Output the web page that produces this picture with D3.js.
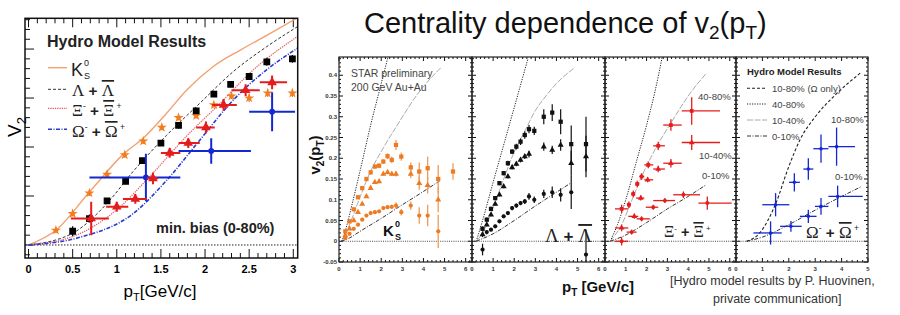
<!DOCTYPE html>
<html>
<head>
<meta charset="utf-8">
<script src="https://cdn.jsdelivr.net/npm/d3@7"></script>
<style>
  body { margin: 0; background: #fff; }
  svg { display: block; }
  text { font-family: "Liberation Sans", Arial, sans-serif; }
</style>
</head>
<body>
<div id="chart"></div>
<script>
// ---------- min. bias panel (left), pT in GeV/c, v2 ----------
const k0sMbPt = [0.31, 0.50, 0.69, 0.89, 1.09, 1.30, 1.51, 1.70, 1.90, 2.10, 2.30, 2.50, 2.71, 2.99];
const k0sMbV2 = [0.015, 0.032, 0.053, 0.072, 0.092, 0.106, 0.120, 0.130, 0.132, 0.143, 0.152, 0.150, 0.155, 0.155];
const k0sMbErr = [0.003, 0.003, 0.003, 0.003, 0.003, 0.003, 0.003, 0.003, 0.003, 0.003, 0.003, 0.004, 0.004, 0.004];

const lamMbPt = [0.50, 0.69, 0.89, 1.10, 1.29, 1.50, 1.70, 1.90, 2.10, 2.29, 2.50, 2.70, 2.99];
const lamMbV2 = [0.014, 0.027, 0.045, 0.065, 0.086, 0.104, 0.122, 0.137, 0.154, 0.164, 0.172, 0.187, 0.190];
const lamMbErr = [0.005, 0.004, 0.003, 0.003, 0.003, 0.003, 0.003, 0.003, 0.003, 0.003, 0.003, 0.004, 0.004];

const xiMbPt = [0.71, 1.00, 1.21, 1.41, 1.60, 1.81, 2.01, 2.21, 2.46, 2.76];
const xiMbV2 = [0.027, 0.039, 0.047, 0.068, 0.094, 0.104, 0.120, 0.143, 0.158, 0.166];
const xiMbErr = [0.017, 0.005, 0.005, 0.006, 0.005, 0.005, 0.006, 0.006, 0.006, 0.007];
const xiMbLo = [0.48, 0.88, 1.07, 1.34, 1.50, 1.70, 1.90, 2.08, 2.30, 2.62];
const xiMbHi = [0.91, 1.13, 1.34, 1.47, 1.72, 1.94, 2.11, 2.36, 2.62, 2.93];

const omMbPt = [1.33, 2.07, 2.76];
const omMbV2 = [0.069, 0.096, 0.136];
const omMbErr = [0.024, 0.013, 0.020];
const omMbLo = [0.69, 1.70, 2.50];
const omMbHi = [1.72, 2.52, 3.02];

// hydro curves, min. bias
const k0sHydroPt = [0, 0.31, 0.69, 1.09, 1.30, 1.56, 1.79, 2.09, 2.40, 2.70, 3.05];
const k0sHydroV2 = [0, 0.015, 0.054, 0.094, 0.109, 0.134, 0.158, 0.182, 0.199, 0.214, 0.232];
const lamHydroPt = [0, 0.50, 0.89, 1.185, 1.565, 1.94, 2.32, 2.70, 3.05];
const lamHydroV2 = [0, 0.012, 0.0425, 0.075, 0.112, 0.1446, 0.177, 0.2025, 0.223];
const xiHydroPt = [0, 0.54, 1.0, 1.375, 1.79, 2.17, 2.55, 3.05];
const xiHydroV2 = [0, 0.010, 0.036, 0.070, 0.111, 0.1446, 0.179, 0.213];
const omHydroPt = [0, 0.58, 1.185, 1.565, 1.94, 2.32, 2.70, 3.05];
const omHydroV2 = [0, 0.0078, 0.032, 0.066, 0.107, 0.148, 0.179, 0.201];

// ---------- centrality panels (right) ----------
// K0S
const k0s4080Pt = [0.3, 0.5, 0.7, 0.9, 1.1, 1.3, 1.5, 1.7, 1.9, 2.1, 2.3, 2.5, 2.7, 2.95, 3.4, 3.8, 4.2, 4.7, 5.4];
const k0s4080V2 = [0.024, 0.048, 0.077, 0.106, 0.128, 0.150, 0.166, 0.180, 0.182, 0.192, 0.205, 0.196, 0.232, 0.204, 0.178, 0.168, 0.176, 0.150, 0.168];
const k0s4080Err = [0.004, 0.004, 0.004, 0.004, 0.004, 0.005, 0.005, 0.005, 0.006, 0.006, 0.007, 0.008, 0.012, 0.010, 0.012, 0.022, 0.028, 0.034, 0.020];
const k0s1040Pt = [0.3, 0.5, 0.7, 0.9, 1.1, 1.3, 1.5, 1.7, 1.9, 2.1, 2.3, 2.5, 2.7, 3.4, 3.8, 4.2, 4.7];
const k0s1040V2 = [0.014, 0.030, 0.050, 0.070, 0.090, 0.108, 0.128, 0.142, 0.144, 0.162, 0.166, 0.162, 0.162, 0.162, 0.140, 0.135, 0.100];
const k0s1040Err = [0.003, 0.003, 0.003, 0.003, 0.003, 0.003, 0.004, 0.004, 0.004, 0.004, 0.005, 0.005, 0.006, 0.010, 0.016, 0.020, 0.030];
const k0s010Pt = [0.3, 0.5, 0.7, 0.9, 1.1, 1.3, 1.5, 1.7, 1.9, 2.1, 2.3, 2.5, 2.7, 2.95, 3.4, 3.8, 4.2, 4.7];
const k0s010V2 = [0.008, 0.018, 0.030, 0.040, 0.052, 0.062, 0.068, 0.070, 0.072, 0.080, 0.082, 0.083, 0.086, 0.070, 0.086, 0.062, 0.062, 0.024];
const k0s010Err = [0.003, 0.003, 0.003, 0.003, 0.003, 0.003, 0.003, 0.003, 0.003, 0.004, 0.004, 0.005, 0.008, 0.008, 0.010, 0.020, 0.026, 0.040];
const k0sHydro4080Pt = [0.14, 0.3, 0.6, 1.0, 1.5, 2.0, 2.4];
const k0sHydro4080V2 = [0, 0.025, 0.085, 0.17, 0.28, 0.38, 0.46];
const k0sHydro1040Pt = [0.15, 0.54, 0.86, 1.49, 2.1, 2.76, 3.8, 4.84];
const k0sHydro1040V2 = [0, 0.045, 0.088, 0.168, 0.225, 0.28, 0.36, 0.419];
const k0sHydro010Pt = [0.1, 0.5, 1, 2, 3, 4, 4.84];
const k0sHydro010V2 = [0, 0.008, 0.024, 0.055, 0.088, 0.12, 0.148];

// Lambda
const lam4080Pt = [0.5, 0.7, 0.9, 1.1, 1.3, 1.5, 1.7, 1.9, 2.1, 2.3, 2.5, 2.7, 2.95, 3.4, 3.8, 4.2, 4.7, 5.4];
const lam4080V2 = [0.030, 0.052, 0.078, 0.104, 0.140, 0.164, 0.188, 0.216, 0.228, 0.240, 0.256, 0.270, 0.266, 0.300, 0.310, 0.288, 0.234, 0.234];
const lam4080Err = [0.006, 0.005, 0.005, 0.005, 0.005, 0.005, 0.006, 0.006, 0.007, 0.008, 0.009, 0.010, 0.010, 0.018, 0.020, 0.030, 0.045, 0.066];
const lam1040Pt = [0.5, 0.7, 0.9, 1.1, 1.3, 1.5, 1.7, 1.9, 2.1, 2.3, 2.5, 2.7, 3.4, 3.8, 4.2, 4.7, 5.4];
const lam1040V2 = [0.016, 0.040, 0.064, 0.090, 0.112, 0.132, 0.156, 0.178, 0.186, 0.196, 0.204, 0.210, 0.228, 0.220, 0.232, 0.188, 0.204];
const lam1040Err = [0.006, 0.004, 0.004, 0.004, 0.004, 0.004, 0.005, 0.005, 0.005, 0.006, 0.006, 0.008, 0.010, 0.010, 0.014, 0.030, 0.050];
const lam010Pt = [0.5, 0.7, 0.9, 1.1, 1.3, 1.5, 1.7, 1.9, 2.1, 2.3, 2.5, 2.7, 2.95, 3.4, 3.8, 4.2, 4.7, 5.4];
const lam010V2 = [-0.020, 0.022, 0.028, 0.036, 0.048, 0.060, 0.068, 0.080, 0.086, 0.092, 0.096, 0.108, 0.100, 0.114, 0.118, 0.112, 0.118, -0.032];
const lam010Err = [0.014, 0.005, 0.004, 0.004, 0.004, 0.004, 0.004, 0.005, 0.005, 0.005, 0.006, 0.008, 0.008, 0.010, 0.014, 0.016, 0.040, 0.060];
const lamHydro4080Pt = [0.2, 0.5, 1.0, 1.5, 2.0, 2.65];
const lamHydro4080V2 = [0, 0.05, 0.142, 0.232, 0.322, 0.44];
const lamHydro1040Pt = [0.2, 0.5, 1.0, 1.5, 2.0, 2.5, 3.0, 3.5, 4.0, 4.83];
const lamHydro1040V2 = [0, 0.02, 0.08, 0.15, 0.215, 0.265, 0.315, 0.35, 0.38, 0.417];
const lamHydro010Pt = [0.2, 1, 2, 3, 4, 4.67];
const lamHydro010V2 = [0, 0.018, 0.05, 0.085, 0.118, 0.14];

// Xi
const xi4080Pt = [0.80, 1.15, 1.36, 1.55, 1.76, 2.08, 2.56, 3.17, 4.17];
const xi4080V2 = [0.078, 0.088, 0.114, 0.138, 0.156, 0.184, 0.230, 0.280, 0.314];
const xi4080Err = [0.010, 0.008, 0.008, 0.008, 0.008, 0.008, 0.010, 0.014, 0.033];
const xi4080Lo = [0.48, 1.05, 1.25, 1.45, 1.65, 1.89, 2.32, 2.80, 3.69];
const xi4080Hi = [1.12, 1.25, 1.45, 1.65, 1.89, 2.32, 2.88, 3.69, 5.53];
const xi1040Pt = [0.80, 1.41, 1.72, 2.05, 2.56, 3.17, 4.17];
const xi1040V2 = [0.032, 0.060, 0.104, 0.148, 0.174, 0.188, 0.238];
const xi1040Err = [0.008, 0.006, 0.006, 0.006, 0.008, 0.010, 0.018];
const xi1040Lo = [0.48, 1.12, 1.50, 1.89, 2.32, 2.80, 3.69];
const xi1040Hi = [1.12, 1.60, 1.89, 2.32, 2.88, 3.69, 5.53];
const xi010Pt = [0.80, 1.28, 1.76, 2.32, 2.88, 3.77, 4.92];
const xi010V2 = [0.000, 0.022, 0.054, 0.082, 0.098, 0.112, 0.092];
const xi010Err = [0.010, 0.006, 0.006, 0.006, 0.006, 0.008, 0.016];
const xi010Lo = [0.48, 1.04, 1.52, 1.96, 2.32, 3.28, 4.49];
const xi010Hi = [1.12, 1.52, 2.16, 2.56, 3.37, 4.57, 6.09];
const xiHydro4080Pt = [0.25, 0.6, 1.0, 1.5, 2.0, 2.4, 2.75];
const xiHydro4080V2 = [0, 0.04, 0.1, 0.19, 0.28, 0.36, 0.444];
const xiHydro1040Pt = [0.25, 0.8, 1.3, 1.8, 2.56, 3.17, 4.0, 4.86];
const xiHydro1040V2 = [0, 0.04, 0.1, 0.16, 0.235, 0.285, 0.35, 0.404];
const xiHydro010Pt = [0.25, 1, 2, 3, 4, 4.86];
const xiHydro010V2 = [0, 0.015, 0.045, 0.078, 0.108, 0.136];

// Omega
const om1080Pt = [1.50, 2.21, 2.74, 3.22, 3.81];
const om1080V2 = [0.088, 0.142, 0.174, 0.223, 0.228];
const om1080Err = [0.028, 0.022, 0.026, 0.034, 0.046];
const om1080Lo = [1.00, 2.01, 2.55, 2.93, 3.50];
const om1080Hi = [2.02, 2.42, 2.93, 3.50, 4.51];
const om010Pt = [1.31, 2.08, 2.74, 3.22, 3.85];
const om010V2 = [0.020, 0.036, 0.060, 0.084, 0.108];
const om010Err = [0.028, 0.013, 0.016, 0.020, 0.026];
const om010Lo = [0.66, 1.67, 2.42, 2.99, 3.50];
const om010Hi = [1.73, 2.49, 3.05, 3.50, 4.80];
const omHydro1080Pt = [0.4, 0.9, 1.5, 2.0, 2.42, 3.0, 3.69, 4.76];
const omHydro1080V2 = [0, 0.02, 0.09, 0.18, 0.244, 0.30, 0.348, 0.408];
const omHydro010Pt = [0.4, 1, 2, 3, 4, 4.76];
const omHydro010V2 = [0, 0.01, 0.04, 0.075, 0.108, 0.132];

// tick labels
const mbTickLabels = ["0", "0.5", "1", "1.5", "2", "2.5", "3"];
const rightYTicks = [-0.05, 0, 0.05, 0.1, 0.15, 0.2, 0.25, 0.3, 0.35, 0.4];

const svg = d3.select("#chart").append("svg")
  .attr("width", 900)
  .attr("height", 315);

// curve styles used in both parts
const ORANGE = "#ee7a22", RED = "#e41c1c", BLUE = "#1428d2";
const sDot = { stroke: "#222", dash: "1.2,1.3", width: 1 };
const sGray = { stroke: "#aaa", dash: "6,1.5", width: 1 };
const sDashDot = { stroke: "#333", dash: "4,1.5,1,1.5", width: 1 };
const sDash = { stroke: "#222", dash: "3,2", width: 1.1 };

function drawCurve(g, x, y, pt, v2, st) {
  const line = d3.line().x(d => x(d[0])).y(d => y(d[1])).curve(d3.curveMonotoneX);
  g.append("path")
    .attr("d", line(d3.zip(pt, v2)))
    .attr("fill", "none")
    .attr("stroke", st.stroke)
    .attr("stroke-width", st.width)
    .attr("stroke-dasharray", st.dash);
}

function drawSeries(g, x, y, s) {
  const idx = d3.range(s.pt.length);
  if (s.lo) {
    g.append("g").selectAll("line").data(idx).join("line")
      .attr("x1", i => x(s.lo[i])).attr("x2", i => x(s.hi[i]))
      .attr("y1", i => y(s.v2[i])).attr("y2", i => y(s.v2[i]))
      .attr("stroke", s.barColor || s.color).attr("stroke-width", s.width);
  }
  if (s.err) {
    g.append("g").selectAll("line").data(idx).join("line")
      .attr("x1", i => x(s.pt[i])).attr("x2", i => x(s.pt[i]))
      .attr("y1", i => y(s.v2[i] - s.err[i])).attr("y2", i => y(s.v2[i] + s.err[i]))
      .attr("stroke", s.barColor || s.color).attr("stroke-width", s.width);
  }
  g.append("g").selectAll("path").data(idx).join("path")
    .attr("transform", i => `translate(${x(s.pt[i])},${y(s.v2[i])})`)
    .attr("d", d3.symbol(s.symbol, s.size))
    .attr("fill", s.color);
}

// ticks drawn inside a frame
function frameTicks(g, x, y, xVals, xMajor, yVals, yMajor, len, sides) {
  const [x0, x1] = x.range(), [y0, y1] = y.range();
  const t = g.append("g").attr("stroke", "#111").attr("stroke-width", 1);
  xVals.forEach((v, i) => {
    const l = xMajor(i) ? len[0] : len[1];
    t.append("line").attr("x1", x(v)).attr("x2", x(v)).attr("y1", y0).attr("y2", y0 - l);
    if (sides.top) t.append("line").attr("x1", x(v)).attr("x2", x(v)).attr("y1", y1).attr("y2", y1 + l);
  });
  yVals.forEach((v, i) => {
    const l = yMajor(i) ? len[0] : len[1];
    t.append("line").attr("x1", x0).attr("x2", x0 + l).attr("y1", y(v)).attr("y2", y(v));
    if (sides.right) t.append("line").attr("x1", x1).attr("x2", x1 - l).attr("y1", y(v)).attr("y2", y(v));
  });
}

// ======================= LEFT: min. bias =======================
const xMb = d3.scaleLinear().domain([-0.04, 3.05]).range([25, 297.7]);
const yMb = d3.scaleLinear().domain([-0.0133, 0.2314]).range([258, 18.3]);

const left = svg.append("g");
left.append("clipPath").attr("id", "clipMb")
  .append("rect").attr("x", 25).attr("y", 18.3).attr("width", 272.7).attr("height", 239.7);

frameTicks(left, xMb, yMb,
  d3.range(0, 31).map(i => i / 10), i => i % 5 === 0,
  d3.range(-1, 24).map(i => i / 100), i => (i - 1) % 5 === 0,
  [9, 5], { top: true, right: false });

const mbPlot = left.append("g").attr("clip-path", "url(#clipMb)");
// zero line
mbPlot.append("line")
  .attr("x1", xMb.range()[0]).attr("x2", xMb.range()[1])
  .attr("y1", yMb(0)).attr("y2", yMb(0))
  .attr("stroke", "#222").attr("stroke-dasharray", "1.5,1.5");

drawCurve(mbPlot, xMb, yMb, k0sHydroPt, k0sHydroV2, { stroke: "#f4a070", dash: null, width: 1.4 });
drawCurve(mbPlot, xMb, yMb, lamHydroPt, lamHydroV2, { stroke: "#333", dash: "3,2", width: 1 });
drawCurve(mbPlot, xMb, yMb, xiHydroPt, xiHydroV2, { stroke: "#e85a5a", dash: "1.3,1", width: 1.2 });
drawCurve(mbPlot, xMb, yMb, omHydroPt, omHydroV2, { stroke: "#2a3ad0", dash: "4,1.5,1,1.5", width: 1.6 });

drawSeries(mbPlot, xMb, yMb, { pt: k0sMbPt, v2: k0sMbV2, err: k0sMbErr, symbol: d3.symbolStar, size: 32, color: "#f27d1e", width: 1.2 });
drawSeries(mbPlot, xMb, yMb, { pt: lamMbPt, v2: lamMbV2, err: lamMbErr, symbol: d3.symbolSquare, size: 46, color: "#000", width: 1.2 });
drawSeries(mbPlot, xMb, yMb, { pt: omMbPt, v2: omMbV2, err: omMbErr, lo: omMbLo, hi: omMbHi, symbol: d3.symbolCircle, size: 26, color: BLUE, width: 2 });
drawSeries(mbPlot, xMb, yMb, { pt: xiMbPt, v2: xiMbV2, err: xiMbErr, lo: xiMbLo, hi: xiMbHi, symbol: d3.symbolTriangle, size: 40, color: RED, width: 2 });

// frame
left.append("rect").attr("x", 25).attr("y", 18.3).attr("width", 272.7).attr("height", 239.7)
  .attr("fill", "none").attr("stroke", "#111").attr("stroke-width", 1.5);

// x tick labels
left.append("g").selectAll("text").data(mbTickLabels).join("text")
  .attr("x", d => xMb(+d)).attr("y", 273)
  .attr("text-anchor", "middle").attr("font-size", 11).attr("font-weight", "bold")
  .text(d => d);

// axis titles
const mbXT = left.append("text").attr("x", 160).attr("y", 297).attr("text-anchor", "middle").attr("font-size", 17);
mbXT.append("tspan").text("p");
mbXT.append("tspan").attr("font-size", 11).attr("dy", 4).text("T");
mbXT.append("tspan").attr("dy", -4).text("[GeV/c]");

const mbYT = left.append("text").attr("transform", "translate(21,127) rotate(-90)").attr("text-anchor", "middle").attr("font-size", 19);
mbYT.append("tspan").text("V");
mbYT.append("tspan").attr("font-size", 13).attr("dy", 5).text("2");

// legend
left.append("text").attr("x", 47).attr("y", 47).attr("font-size", 16).attr("font-weight", "bold").attr("fill", "#222")
  .text("Hydro Model Results");
const legRows = [
  { y: 67.7, st: { stroke: "#f4a070", dash: null, width: 1.4 } },
  { y: 89.3, st: { stroke: "#333", dash: "3,2", width: 1 } },
  { y: 108.3, st: { stroke: "#e85a5a", dash: "1.3,1", width: 1.2 } },
  { y: 129.3, st: { stroke: "#2a3ad0", dash: "4,1.5,1,1.5", width: 1.6 } }
];
legRows.forEach(r => {
  left.append("line").attr("x1", 48).attr("x2", 67).attr("y1", r.y).attr("y2", r.y)
    .attr("stroke", r.st.stroke).attr("stroke-width", r.st.width).attr("stroke-dasharray", r.st.dash);
});
left.append("text").attr("x", 71).attr("y", 76).attr("font-size", 18).attr("fill", "#222").text("K");
left.append("text").attr("x", 84).attr("y", 66).attr("font-size", 9).attr("fill", "#222").text("0");
left.append("text").attr("x", 84).attr("y", 79).attr("font-size", 9).attr("fill", "#222").text("S");

function hyperon(g, x, y, sym, size, charge1, charge2, color) {
  const t = g.append("text").attr("x", x).attr("y", y).attr("fill", color || "#222");
  t.append("tspan").attr("font-family", "Liberation Serif, serif").attr("font-size", size).text(sym);
  if (charge1) t.append("tspan").attr("font-size", size * 0.5).attr("dy", -size * 0.4).text(charge1);
  t.append("tspan").attr("font-size", size * 0.9).attr("font-weight", "bold").attr("dy", charge1 ? size * 0.4 : 0).text(" + ");
  t.append("tspan").attr("font-family", "Liberation Serif, serif").attr("font-size", size)
    .style("text-decoration", "overline").text(sym);
  if (charge2) t.append("tspan").attr("font-size", size * 0.5).attr("dy", -size * 0.4).text(" " + charge2);
  return t;
}
hyperon(left, 72, 96, "Λ", 17, null, null);
hyperon(left, 72, 116, "Ξ", 17, "-", "+");
hyperon(left, 72, 137, "Ω", 17, "-", "+");

left.append("text").attr("x", 156).attr("y", 233).attr("font-size", 14.5).attr("font-weight", "bold").attr("fill", "#222")
  .text("min. bias (0-80%)");

// ======================= RIGHT: centrality =======================
const title = svg.append("text").attr("x", 364).attr("y", 33)
  .attr("font-family", "DejaVu Sans, sans-serif").attr("font-size", 29).attr("fill", "#111");
title.append("tspan").text("Centrality dependence of v");
title.append("tspan").attr("font-size", 19).attr("dy", 6).text("2");
title.append("tspan").attr("dy", -6).text("(p");
title.append("tspan").attr("font-size", 19).attr("dy", 6).text("T");
title.append("tspan").attr("dy", -6).text(")");

const yR = d3.scaleLinear().domain([-0.05, 0.444]).range([262, 57]);
const panels = [
  { x0: 339, x1: 472, max: 6.3, ticks: 6 },
  { x0: 472, x1: 605, max: 6.3, ticks: 6 },
  { x0: 605, x1: 736, max: 6.3, ticks: 6 },
  { x0: 736, x1: 868, max: 5.0, ticks: 5 }
];
const right = svg.append("g");
panels.forEach((p, k) => {
  p.x = d3.scaleLinear().domain([0, p.max]).range([p.x0, p.x1]);
  right.append("clipPath").attr("id", "clipP" + k)
    .append("rect").attr("x", p.x0).attr("y", 57).attr("width", p.x1 - p.x0).attr("height", 205);
  frameTicks(right, p.x, yR,
    d3.range(0, Math.floor(p.max * 5) + 1).map(i => i / 5), i => i % 5 === 0,
    d3.range(-5, 45).map(i => i / 100), i => i % 5 === 0,
    [4, 2], { top: true, right: true });
  p.g = right.append("g").attr("clip-path", `url(#clipP${k})`);
  p.g.append("line").attr("x1", p.x0).attr("x2", p.x1).attr("y1", yR(0)).attr("y2", yR(0))
    .attr("stroke", "#333").attr("stroke-dasharray", "1,1.2").attr("stroke-width", 0.9);
  right.append("g").selectAll("text").data(d3.range(0, p.ticks + 1)).join("text")
    .attr("x", d => p.x(d)).attr("y", 271).attr("text-anchor", "middle")
    .attr("font-size", 6).attr("font-weight", "bold").attr("fill", "#333").text(d => d);
});

// y tick labels on the first panel
right.append("g").selectAll("text").data(rightYTicks).join("text")
  .attr("x", 337).attr("y", d => yR(d) + 2).attr("text-anchor", "end")
  .attr("font-size", 6).attr("font-weight", "bold").attr("fill", "#333")
  .text(d => String(+d.toFixed(2)));

// panel 1: K0S
const p1 = panels[0];
drawCurve(p1.g, p1.x, yR, k0sHydro4080Pt, k0sHydro4080V2, sDot);
drawCurve(p1.g, p1.x, yR, k0sHydro1040Pt, k0sHydro1040V2, sGray);
drawCurve(p1.g, p1.x, yR, k0sHydro010Pt, k0sHydro010V2, sDashDot);
drawSeries(p1.g, p1.x, yR, { pt: k0s010Pt, v2: k0s010V2, err: k0s010Err, symbol: d3.symbolCircle, size: 14, color: ORANGE, barColor: "#f19a55", width: 1.3 });
drawSeries(p1.g, p1.x, yR, { pt: k0s1040Pt, v2: k0s1040V2, err: k0s1040Err, symbol: d3.symbolTriangle, size: 16, color: ORANGE, barColor: "#f19a55", width: 1.3 });
drawSeries(p1.g, p1.x, yR, { pt: k0s4080Pt, v2: k0s4080V2, err: k0s4080Err, symbol: d3.symbolSquare, size: 18, color: ORANGE, barColor: "#f19a55", width: 1.3 });

// panel 2: Lambda
const p2 = panels[1];
drawCurve(p2.g, p2.x, yR, lamHydro4080Pt, lamHydro4080V2, sDot);
drawCurve(p2.g, p2.x, yR, lamHydro1040Pt, lamHydro1040V2, sGray);
drawCurve(p2.g, p2.x, yR, lamHydro010Pt, lamHydro010V2, sDashDot);
drawSeries(p2.g, p2.x, yR, { pt: lam010Pt, v2: lam010V2, err: lam010Err, symbol: d3.symbolCircle, size: 14, color: "#111", width: 1.2 });
drawSeries(p2.g, p2.x, yR, { pt: lam1040Pt, v2: lam1040V2, err: lam1040Err, symbol: d3.symbolTriangle, size: 16, color: "#111", width: 1.2 });
drawSeries(p2.g, p2.x, yR, { pt: lam4080Pt, v2: lam4080V2, err: lam4080Err, symbol: d3.symbolSquare, size: 18, color: "#111", width: 1.2 });

// panel 3: Xi
const p3 = panels[2];
drawCurve(p3.g, p3.x, yR, xiHydro4080Pt, xiHydro4080V2, sDot);
drawCurve(p3.g, p3.x, yR, xiHydro1040Pt, xiHydro1040V2, sGray);
drawCurve(p3.g, p3.x, yR, xiHydro010Pt, xiHydro010V2, sDashDot);
drawSeries(p3.g, p3.x, yR, { pt: xi010Pt, v2: xi010V2, err: xi010Err, lo: xi010Lo, hi: xi010Hi, symbol: d3.symbolCircle, size: 12, color: RED, width: 1.3 });
drawSeries(p3.g, p3.x, yR, { pt: xi1040Pt, v2: xi1040V2, err: xi1040Err, lo: xi1040Lo, hi: xi1040Hi, symbol: d3.symbolTriangle, size: 14, color: RED, width: 1.3 });
drawSeries(p3.g, p3.x, yR, { pt: xi4080Pt, v2: xi4080V2, err: xi4080Err, lo: xi4080Lo, hi: xi4080Hi, symbol: d3.symbolSquare, size: 14, color: RED, width: 1.3 });

// panel 4: Omega
const p4 = panels[3];
drawCurve(p4.g, p4.x, yR, omHydro1080Pt, omHydro1080V2, sDash);
drawCurve(p4.g, p4.x, yR, omHydro010Pt, omHydro010V2, sDashDot);
drawSeries(p4.g, p4.x, yR, { pt: om010Pt, v2: om010V2, err: om010Err, lo: om010Lo, hi: om010Hi, symbol: d3.symbolCircle, size: 10, color: BLUE, width: 1.3 });
drawSeries(p4.g, p4.x, yR, { pt: om1080Pt, v2: om1080V2, err: om1080Err, lo: om1080Lo, hi: om1080Hi, symbol: d3.symbolCircle, size: 10, color: BLUE, width: 1.3 });

// panel frames
panels.forEach(p => {
  right.append("rect").attr("x", p.x0).attr("y", 57).attr("width", p.x1 - p.x0).attr("height", 205)
    .attr("fill", "none").attr("stroke", "#222").attr("stroke-width", 1.2);
});

// panel texts
right.append("text").attr("x", 351).attr("y", 77).attr("font-family", "DejaVu Sans, sans-serif")
  .attr("font-size", 10.5).attr("fill", "#444").text("STAR preliminary");
right.append("text").attr("x", 351).attr("y", 91).attr("font-family", "DejaVu Sans, sans-serif")
  .attr("font-size", 10.5).attr("fill", "#444").text("200 GeV Au+Au");

right.append("text").attr("x", 383).attr("y", 236).attr("font-size", 15).attr("font-weight", "bold").attr("fill", "#111").text("K");
right.append("text").attr("x", 395).attr("y", 227).attr("font-size", 9).attr("font-weight", "bold").attr("fill", "#111").text("0");
right.append("text").attr("x", 395).attr("y", 240).attr("font-size", 9).attr("font-weight", "bold").attr("fill", "#111").text("S");

hyperon(right, 545, 242, "Λ", 19, null, null, "#222");
hyperon(right, 664, 237, "Ξ", 16, "-", "+", "#222");
hyperon(right, 806, 238, "Ω", 17, "-", "+", "#222");

// centrality labels
const centLabels = [["40-80%", 698, 100], ["10-40%", 699, 159], ["0-10%", 702, 179], ["10-80%", 831, 123], ["0-10%", 835, 180]];
right.append("g").selectAll("text").data(centLabels).join("text")
  .attr("x", d => d[1]).attr("y", d => d[2]).attr("font-size", 9.5).attr("fill", "#444").text(d => d[0]);

// hydro legend in panel 4
right.append("text").attr("x", 747).attr("y", 75).attr("font-size", 9.5).attr("font-weight", "bold").attr("fill", "#222")
  .text("Hydro Model Results");
const rLeg = [["10-80% (Ω only)", sDash, 88.3], ["40-80%", sDot, 104], ["10-40%", sGray, 120], ["0-10%", sDashDot, 136]];
rLeg.forEach(r => {
  right.append("line").attr("x1", 747).attr("x2", 767).attr("y1", r[2]).attr("y2", r[2])
    .attr("stroke", r[1].stroke).attr("stroke-width", r[1].width).attr("stroke-dasharray", r[1].dash);
  right.append("text").attr("x", 772).attr("y", r[2] + 3.5).attr("font-size", 9.5).attr("fill", "#444").text(r[0]);
});

// axis titles
const rYT = right.append("text").attr("transform", "translate(320,155) rotate(-90)")
  .attr("text-anchor", "middle").attr("font-size", 15).attr("font-weight", "bold").attr("fill", "#111");
rYT.append("tspan").text("v");
rYT.append("tspan").attr("font-size", 10).attr("dy", 4).text("2");
rYT.append("tspan").attr("dy", -4).text("(p");
rYT.append("tspan").attr("font-size", 10).attr("dy", 4).text("T");
rYT.append("tspan").attr("dy", -4).text(")");

const rXT = right.append("text").attr("x", 562).attr("y", 292).attr("font-size", 15).attr("font-weight", "bold").attr("fill", "#111");
rXT.append("tspan").text("p");
rXT.append("tspan").attr("font-size", 10).attr("dy", 4).text("T");
rXT.append("tspan").attr("dy", -4).text(" [GeV/c]");

right.append("text").attr("x", 670).attr("y", 285).attr("font-size", 12.5).attr("fill", "#333")
  .text("[Hydro model results by P. Huovinen,");
right.append("text").attr("x", 713).attr("y", 303).attr("font-size", 12.5).attr("fill", "#333")
  .text("private communication]");
</script>
</body>
</html>
